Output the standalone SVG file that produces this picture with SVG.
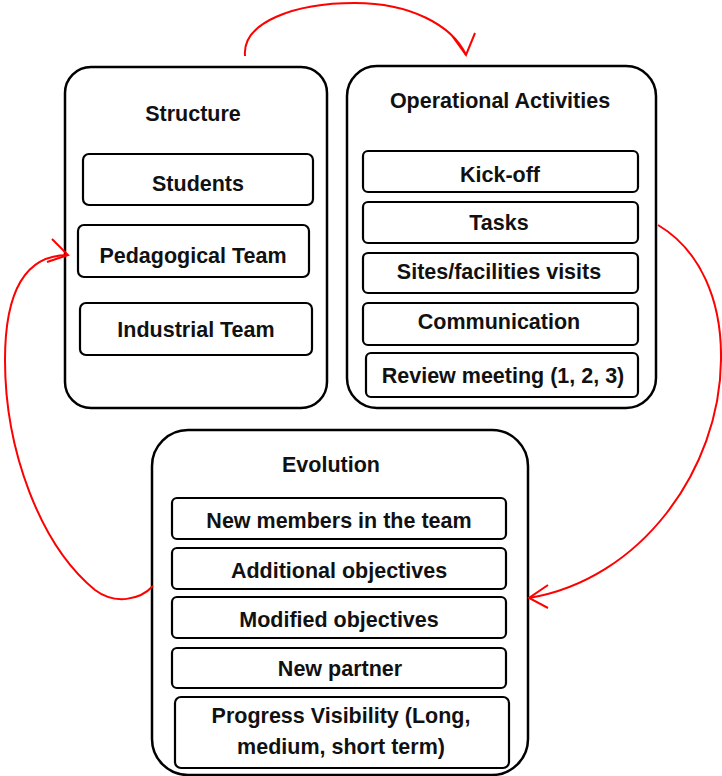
<svg xmlns="http://www.w3.org/2000/svg" width="722" height="776" viewBox="0 0 722 776">
<style>
.outer{fill:#fff;stroke:#000;stroke-width:2.5}
.inner{fill:#fff;stroke:#000;stroke-width:2.2}
text{font-family:"Liberation Sans",Arial,sans-serif;font-weight:bold;font-size:21.5px;fill:#111;text-anchor:middle}
.conn{fill:none;stroke:#f00;stroke-width:2}
</style>
<rect width="722" height="776" fill="#fff"/>
<g id="structure">
<rect class="outer" x="65" y="67" width="262" height="341" rx="26"/>
<text x="193" y="121">Structure</text>
<g id="students"><rect class="inner" x="83" y="154" width="230" height="51" rx="6"/><text x="198" y="191">Students</text></g>
<g id="pedagogical"><rect class="inner" x="78" y="225" width="231" height="52" rx="6"/><text x="193" y="263">Pedagogical Team</text></g>
<g id="industrial"><rect class="inner" x="80" y="303" width="232" height="52" rx="6"/><text x="196" y="337">Industrial Team</text></g>
</g>
<g id="operational">
<rect class="outer" x="347" y="66" width="309" height="342" rx="30"/>
<text x="500" y="108">Operational Activities</text>
<g id="kickoff"><rect class="inner" x="363" y="151" width="275" height="41" rx="5"/><text x="500" y="182">Kick-off</text></g>
<g id="tasks"><rect class="inner" x="363" y="202" width="275" height="41" rx="5"/><text x="499" y="230">Tasks</text></g>
<g id="sites"><rect class="inner" x="363" y="253" width="275" height="40" rx="5"/><text x="499" y="279">Sites/facilities visits</text></g>
<g id="communication"><rect class="inner" x="363" y="303" width="275" height="42" rx="5"/><text x="499" y="329">Communication</text></g>
<g id="review"><rect class="inner" x="366" y="353" width="272" height="44" rx="5"/><text x="503" y="383">Review meeting (1, 2, 3)</text></g>
</g>
<g id="evolution">
<rect class="outer" x="152" y="430" width="376" height="345" rx="36"/>
<text x="331" y="472">Evolution</text>
<g id="newmembers"><rect class="inner" x="172" y="498" width="334" height="41" rx="5"/><text x="339" y="528">New members in the team</text></g>
<g id="additional"><rect class="inner" x="172" y="548" width="334" height="41" rx="5"/><text x="339" y="578">Additional objectives</text></g>
<g id="modified"><rect class="inner" x="172" y="597" width="334" height="41" rx="5"/><text x="339" y="627">Modified objectives</text></g>
<g id="newpartner"><rect class="inner" x="172" y="648" width="334" height="40" rx="5"/><text x="340" y="676">New partner</text></g>
<g id="progress"><rect class="inner" x="175" y="697" width="334" height="71" rx="6"/><text x="341" y="723">Progress Visibility (Long,</text><text x="341" y="754">medium, short term)</text></g>
</g>
<g id="connectors">
<path class="conn" d="M245,56 C242,22 295,3 355,3 C410,3 452,25 466,55"/>
<polyline class="conn" points="453,37 466,55 475,33"/>
<path class="conn" d="M658,225 C700,250 722,300 721,360 C720,470 640,580 529,598"/>
<polyline class="conn" points="548,585 529,598 548,608"/>
<path class="conn" d="M153,586 C140,600 115,605 95,590 C40,545 5,450 5,360 C5,300 20,255 68,255"/>
<polyline class="conn" points="52,239 68,255 47,262"/>
</g>
</svg>
